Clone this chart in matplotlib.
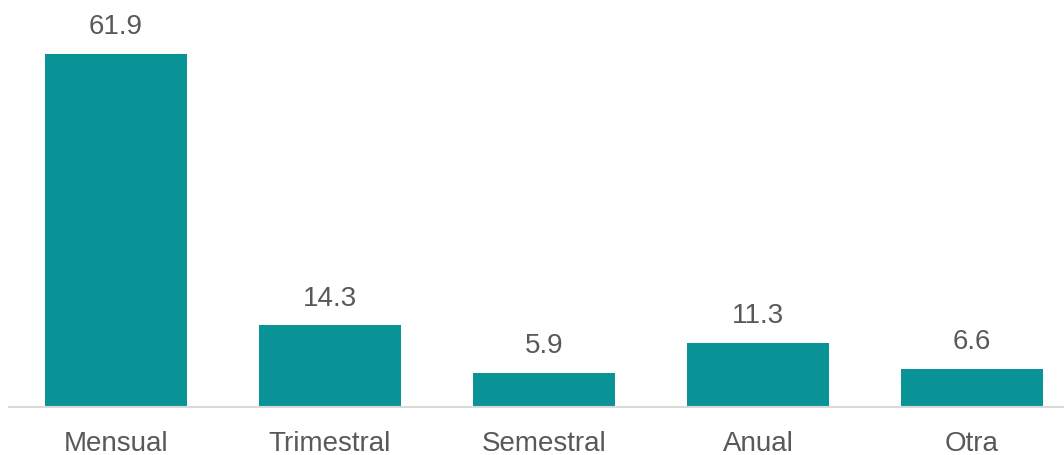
import matplotlib.pyplot as plt

categories = ['Mensual', 'Trimestral', 'Semestral', 'Anual', 'Otra']
values = [61.9, 14.3, 5.9, 11.3, 6.6]

bar_color = '#0A9396'
text_color = '#595959'

plt.rcParams['font.family'] = ['Liberation Sans', 'DejaVu Sans']

fig = plt.figure(figsize=(10.64, 4.55), dpi=100)
ax = fig.add_axes([9 / 1064, 48 / 455, 1 - 9 / 1064, 1 - 48 / 455])

x = range(len(categories))
bars = ax.bar(x, values, width=0.664, color=bar_color, zorder=2)

for b, v in zip(bars, values):
    ax.annotate(f'{v:.1f}', (b.get_x() + b.get_width() / 2, v),
                xytext=(0, 10), textcoords='offset points',
                ha='center', va='bottom', fontsize=20, color=text_color)

ax.set_xlim(-0.5, -0.5 + 1055 / 214)
ax.set_ylim(0, 407 / (353 / 61.9))
ax.set_xticks(list(x))
ax.set_xticklabels(categories, fontsize=20, color=text_color)
ax.tick_params(axis='x', length=0, pad=17)
ax.set_yticks([])

for s in ['top', 'right', 'left']:
    ax.spines[s].set_visible(False)
ax.spines['bottom'].set_color('#D9D9D9')
ax.spines['bottom'].set_linewidth(1.5)

fig.savefig('out.png', dpi=100)
